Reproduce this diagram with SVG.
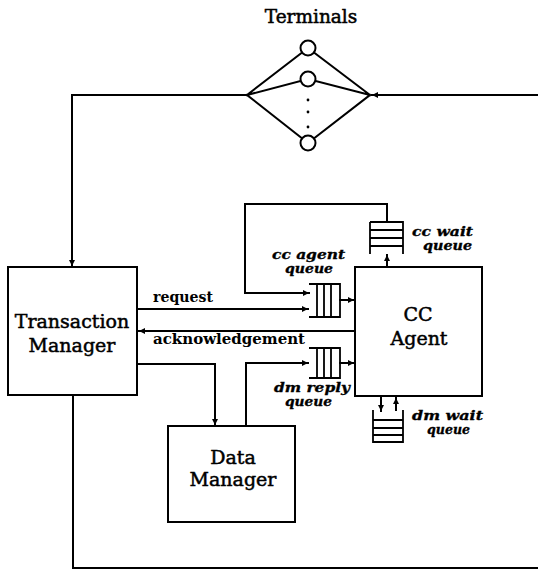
<svg xmlns="http://www.w3.org/2000/svg" width="538" height="570" viewBox="0 0 538 570">
<style>
.ln{fill:none;stroke:#000;stroke-width:2;stroke-linecap:square}
.box{fill:#fff;stroke:#000;stroke-width:2}
.q{fill:none;stroke:#000;stroke-width:1.8}
.big{font-family:"DejaVu Serif","Liberation Serif",serif;font-size:19px;fill:#000;stroke:#000;stroke-width:0.5;text-anchor:middle}
.lab{font-family:"DejaVu Serif","Liberation Serif",serif;font-size:14.5px;font-weight:bold;fill:#000}
.ql{font-family:"DejaVu Serif","Liberation Serif",serif;font-size:12px;font-weight:bold;font-style:italic;fill:#000;stroke:#000;stroke-width:0.3}
</style>
<defs>
<marker id="ah" viewBox="0 0 10 10" refX="10" refY="5" markerWidth="6" markerHeight="6" markerUnits="userSpaceOnUse" orient="auto">
<path d="M0,0 L10,5 L0,10 z" fill="#000"/>
</marker>
</defs>
<g id="connectors">
<path class="ln" d="M537,95 L372,95" marker-end="url(#ah)"/>
<path class="ln" d="M247,95 L72,95 L72,266" marker-end="url(#ah)"/>
<path class="ln" d="M73,395 L73,568 L537,568"/>
<path class="ln" d="M137,309 L308,309" marker-end="url(#ah)"/>
<path class="ln" d="M355,331 L139,331" marker-end="url(#ah)"/>
<path class="ln" d="M137,364 L215,364 L215,425" marker-end="url(#ah)"/>
<path class="ln" d="M246,426 L246,363 L308,363" marker-end="url(#ah)"/>
<path class="ln" d="M340,363 L354,363" marker-end="url(#ah)"/>
<path class="ln" d="M340,300 L354,300" marker-end="url(#ah)"/>
<path class="ln" d="M308,293 L245,293 L245,204 L387,204 L387,222"/>
<path class="ln" d="M308,293 L309,293" marker-end="url(#ah)"/>
<path class="ln" d="M387,267 L387,255" marker-end="url(#ah)"/>
<path class="ln" d="M381,396 L381,411" marker-end="url(#ah)"/>
<path class="ln" d="M396,410 L396,398" marker-end="url(#ah)"/>
<text class="lab" x="153" y="302" textLength="60" lengthAdjust="spacingAndGlyphs">request</text>
<text class="lab" x="153" y="344" textLength="152" lengthAdjust="spacingAndGlyphs">acknowledgement</text>
</g>
<g id="terminals">
<text class="big" x="311" y="23" style="font-size:18.5px">Terminals</text>
<path class="ln" d="M247,95 L308,48 L370,95 M247,95 L308,79 L370,95 M247,95 L308,143 L370,95"/>
<circle cx="308" cy="48" r="7.5" class="box"/>
<circle cx="308" cy="79" r="7.5" class="box"/>
<circle cx="308" cy="143" r="7.5" class="box"/>
<circle cx="308" cy="100" r="1.4" fill="#000"/>
<circle cx="308" cy="112" r="1.4" fill="#000"/>
<circle cx="308" cy="127" r="1.4" fill="#000"/>
</g>
<g id="transaction-manager">
<rect class="box" x="8" y="267" width="129" height="128"/>
<text class="big" x="72" y="328">Transaction</text>
<text class="big" x="72" y="352">Manager</text>
</g>
<g id="cc-agent">
<rect class="box" x="355" y="267" width="127" height="129"/>
<text class="big" x="418" y="321">CC</text>
<text class="big" x="419" y="345">Agent</text>
</g>
<g id="data-manager">
<rect class="box" x="168" y="426" width="127" height="96"/>
<text class="big" x="233" y="464">Data</text>
<text class="big" x="233" y="486">Manager</text>
</g>
<g id="cc-agent-queue">
<path class="q" d="M309,284 L340,284 L340,317 L309,317 M317,284 L317,317 M324,284 L324,317 M331,284 L331,317"/>
<text class="ql" x="272" y="259" textLength="73" lengthAdjust="spacingAndGlyphs">cc agent</text>
<text class="ql" x="285" y="273" textLength="48" lengthAdjust="spacingAndGlyphs">queue</text>
</g>
<g id="dm-reply-queue">
<path class="q" d="M309,348 L340,348 L340,378 L309,378 M317,348 L317,378 M324,348 L324,378 M331,348 L331,378"/>
<text class="ql" x="274" y="392" textLength="76" lengthAdjust="spacingAndGlyphs">dm reply</text>
<text class="ql" x="285" y="406" textLength="47" lengthAdjust="spacingAndGlyphs">queue</text>
</g>
<g id="cc-wait-queue">
<path class="q" d="M370,222 L403,222 L403,254 M370,222 L370,254 M370,230 L403,230 M370,238 L403,238 M370,246 L403,246"/>
<text class="ql" x="412" y="236" textLength="61" lengthAdjust="spacingAndGlyphs">cc wait</text>
<text class="ql" x="423" y="250" textLength="49" lengthAdjust="spacingAndGlyphs">queue</text>
</g>
<g id="dm-wait-queue">
<path class="q" d="M373,410 L373,442 L403,442 L403,410 M373,420 L403,420 M373,428 L403,428 M373,435 L403,435"/>
<text class="ql" x="412" y="420" textLength="71" lengthAdjust="spacingAndGlyphs">dm wait</text>
<text class="ql" x="427" y="434" textLength="43" lengthAdjust="spacingAndGlyphs">queue</text>
</g>
</svg>
